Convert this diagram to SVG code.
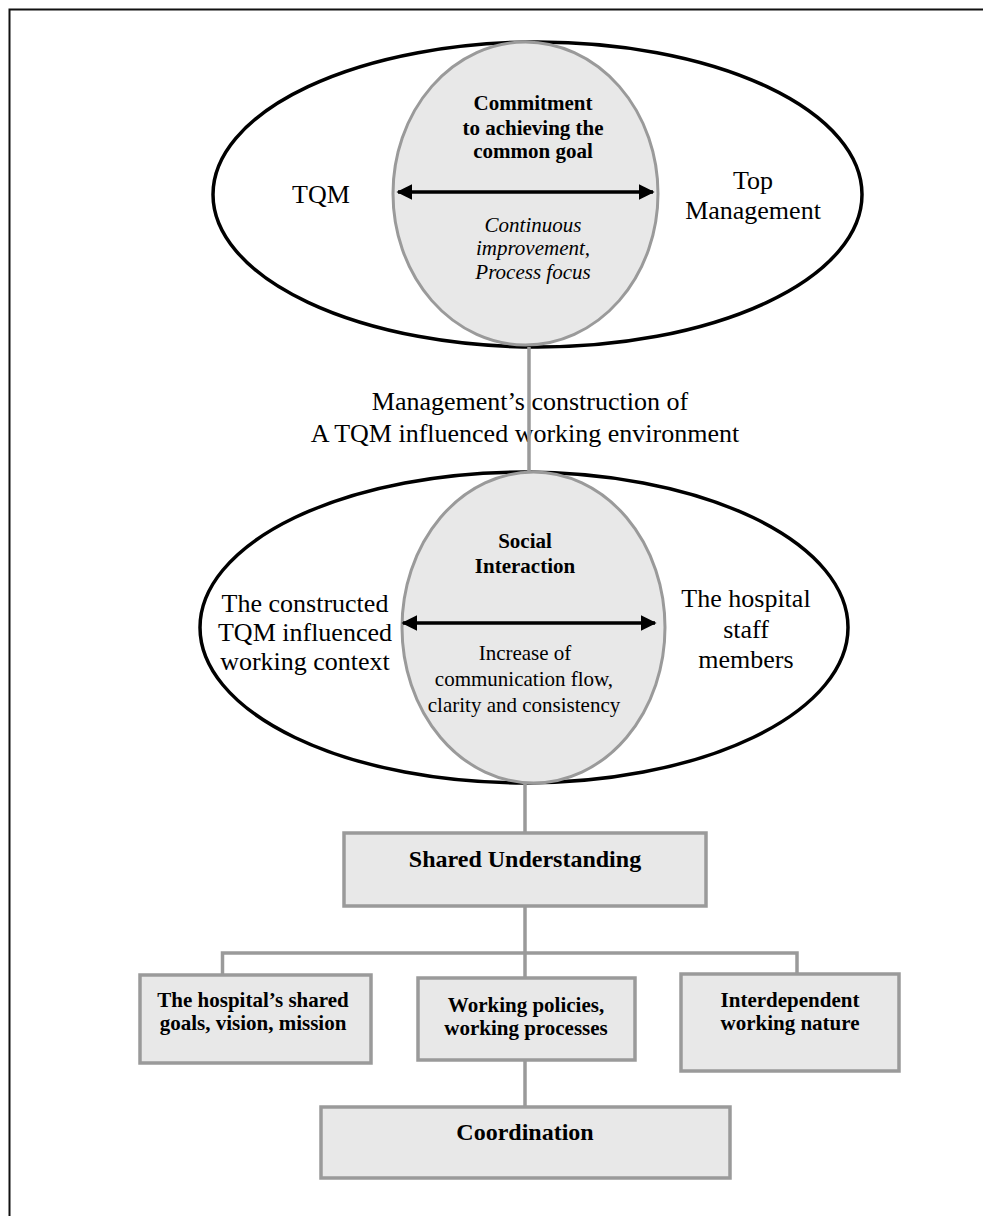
<svg xmlns="http://www.w3.org/2000/svg" width="983" height="1216" viewBox="0 0 983 1216">
  <style>
    .outer { fill: none; stroke: #000; stroke-width: 3.5; }
    .core { fill: #e8e8e8; stroke: #9a9a9a; stroke-width: 3; }
    .box { fill: #e8e8e8; stroke: #9a9a9a; stroke-width: 3.5; }
    .link { fill: none; stroke: #9a9a9a; stroke-width: 3.5; }
    .arrow { stroke: #000; stroke-width: 3.5; marker-start: url(#head); marker-end: url(#head); }
    text { font-family: "Liberation Serif", "Times New Roman", serif; fill: #000; text-anchor: middle; }
    .big { font-size: 26px; }
    .mid { font-size: 21px; }
    .b21 { font-size: 21px; font-weight: bold; }
    .b24 { font-size: 24px; font-weight: bold; }
    .it { font-size: 21px; font-style: italic; }
  </style>
  <defs>
    <marker id="head" viewBox="0 0 10 10" refX="9" refY="5" markerWidth="4.6" markerHeight="4.6" orient="auto-start-reverse" markerUnits="strokeWidth">
      <path d="M0,0 L10,5 L0,10 Z" fill="#000"/>
    </marker>
  </defs>

  <!-- page frame -->
  <rect x="9.5" y="9.5" width="1000" height="1240" fill="none" stroke="#111" stroke-width="2"/>

  <!-- upper cluster: TQM / Top Management -->
  <g id="top-cluster">
    <ellipse class="outer" cx="537.5" cy="194.5" rx="324.5" ry="152.5"/>
    <text class="big" x="321" y="203">TQM</text>
    <text class="big" x="753" y="189">Top</text>
    <text class="big" x="753" y="219">Management</text>
  </g>
  <g id="commitment">
    <ellipse class="core" cx="525.5" cy="193.5" rx="132.5" ry="151.5"/>
    <text class="b21" x="533" y="110">Commitment</text>
    <text class="b21" x="533" y="135">to achieving the</text>
    <text class="b21" x="533" y="158">common goal</text>
    <text class="it" x="533" y="232">Continuous</text>
    <text class="it" x="533" y="255">improvement,</text>
    <text class="it" x="533" y="279">Process focus</text>
  </g>

  <!-- caption between the clusters -->
  <g id="construction-label">
    <text class="big" x="530" y="410">Management’s construction of</text>
    <text class="big" x="525" y="442">A TQM influenced working environment</text>
  </g>

  <!-- lower cluster: working context / staff -->
  <g id="context-cluster">
    <ellipse class="outer" cx="524" cy="627.5" rx="324" ry="155.5"/>
    <text class="big" x="305" y="612">The constructed</text>
    <text class="big" x="305" y="641">TQM influenced</text>
    <text class="big" x="305" y="670">working context</text>
    <text class="big" x="746" y="607">The hospital</text>
    <text class="big" x="746" y="638">staff</text>
    <text class="big" x="746" y="668">members</text>
  </g>
  <g id="social-interaction">
    <ellipse class="core" cx="533.5" cy="627.5" rx="131.5" ry="155.5"/>
    <text class="b21" x="525" y="548">Social</text>
    <text class="b21" x="525" y="573">Interaction</text>
    <text class="mid" x="525" y="660">Increase of</text>
    <text class="mid" x="524" y="686">communication flow,</text>
    <text class="mid" x="524" y="712">clarity and consistency</text>
  </g>

  <g id="shared-understanding">
    <rect class="box" x="344" y="833" width="362" height="73"/>
    <text class="b24" x="525" y="867">Shared Understanding</text>
  </g>
  <g id="shared-goals">
    <rect class="box" x="140" y="975" width="231" height="88"/>
    <text class="b21" x="253" y="1007">The hospital’s shared</text>
    <text class="b21" x="253" y="1030">goals, vision, mission</text>
  </g>
  <g id="working-policies">
    <rect class="box" x="418" y="978" width="217" height="82"/>
    <text class="b21" x="526" y="1012">Working policies,</text>
    <text class="b21" x="526" y="1035">working processes</text>
  </g>
  <g id="interdependent">
    <rect class="box" x="681" y="974" width="218" height="97"/>
    <text class="b21" x="790" y="1007">Interdependent</text>
    <text class="b21" x="790" y="1030">working nature</text>
  </g>
  <g id="coordination">
    <rect class="box" x="321" y="1107" width="409" height="71"/>
    <text class="b24" x="525" y="1140">Coordination</text>
  </g>

  <!-- connectors -->
  <g id="connectors">
    <line class="arrow" x1="398" y1="192" x2="653" y2="192"/>
    <line class="arrow" x1="403" y1="623" x2="655" y2="623"/>
    <path class="link" d="M529,347 V472"/>
    <path class="link" d="M525,783 V833"/>
    <path class="link" d="M525,906 V978"/>
    <path class="link" d="M222.5,975 V953 H797 V974"/>
    <path class="link" d="M525,1060 V1107"/>
  </g>
</svg>
